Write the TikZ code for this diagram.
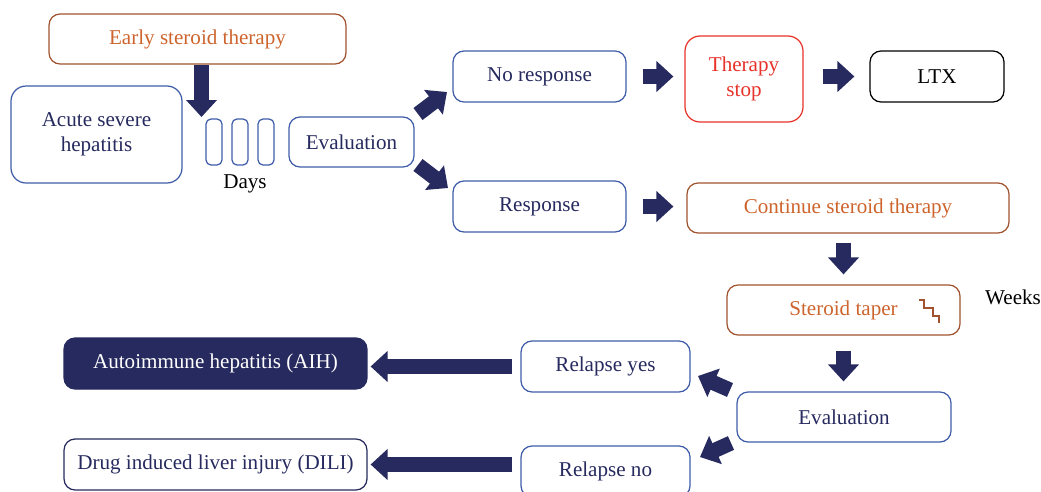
\documentclass[tikz,border=0pt]{standalone}
\usepackage{fontspec}
\setmainfont{Liberation Serif}
\usepackage{xcolor}
\usepackage{tikz}
\usetikzlibrary{arrows.meta}
\definecolor{navy}{RGB}{38,42,94}
\definecolor{boxblue}{RGB}{62,92,168}
\definecolor{rust}{RGB}{160,82,45}
\definecolor{rusttext}{RGB}{205,100,45}
\definecolor{stopred}{RGB}{230,50,40}
\tikzset{
	box/.style={draw,line width=0.7pt,rounded corners=2.2mm,align=center,inner sep=0pt},
	bluebox/.style={box,draw=boxblue,text=navy},
	rustbox/.style={box,draw=rust,text=rusttext},
	bigarrow/.style={draw=navy,line width=0.3cm,-{Triangle[length=0.34cm,width=0.6cm]}},
}
\begin{document}
\begin{tikzpicture}[x=0.02cm,y=-0.02cm,font=\fontsize{12}{14}\selectfont]
	\useasboundingbox (0,0) rectangle (1041,491);
	\node[rustbox,minimum width=5.94cm,minimum height=1cm] (early) at (197.5,39) {Early steroid therapy};
	\node[bluebox,rounded corners=3mm,minimum width=3.42cm,minimum height=1.94cm] (acute) at (96.5,134.5) {Acute severe\\hepatitis};
	\foreach \i/\x in {1/214,2/240,3/266}
		\node[bluebox,rounded corners=1mm,minimum width=0.32cm,minimum height=0.92cm] (d\i) at (\x,142) {};
	\node (days) at (245,184) {Days};
	\node[bluebox,minimum width=2.5cm,minimum height=1cm] (evalA) at (351.5,142) {Evaluation};
	\node[bluebox,minimum width=3.46cm,minimum height=1.02cm] (nores) at (539.5,76.5) {No response};
	\node[bluebox,minimum width=3.46cm,minimum height=1.02cm] (resp) at (539.5,206.5) {Response};
	\node[box,draw=stopred,text=stopred,rounded corners=3mm,minimum width=2.36cm,minimum height=1.72cm] (stop) at (744,79) {Therapy\\stop};
	\node[box,draw=black,minimum width=2.68cm,minimum height=1.02cm] (ltx) at (937,76.5) {LTX};
	\node[rustbox,minimum width=6.44cm,minimum height=1cm] (cont) at (848,208) {Continue steroid therapy};
	\node[rustbox,minimum width=4.66cm,minimum height=1cm] (taper) at (843.5,310) {Steroid taper};
	\draw[rust,line width=0.6pt] (919,300) -| (924,308) -| (933,316) -| (939,323);
	\node (weeks) at (1013,297) {Weeks};
	\node[bluebox,minimum width=4.28cm,minimum height=1cm] (evalB) at (844,417) {Evaluation};
	\node[bluebox,minimum width=3.38cm,minimum height=1.02cm] (relyes) at (605.5,366.5) {Relapse yes};
	\node[bluebox,minimum width=3.38cm,minimum height=1.02cm] (relno) at (605.5,471.5) {Relapse no};
	\node[box,draw=navy,fill=navy,text=white,minimum width=6.06cm,minimum height=1.02cm] (aih) at (215.5,363.5) {Autoimmune hepatitis (AIH)};
	\node[box,draw=navy,text=navy,minimum width=6.06cm,minimum height=1.02cm] (dili) at (215.5,464.5) {Drug induced liver injury (DILI)};
	% free ends of the arrows
	\coordinate (daystop) at (201.5,117);
	\coordinate (upA) at (418,114);
	\coordinate (upB) at (447,92);
	\coordinate (downA) at (418,165);
	\coordinate (downB) at (448,188);
	\coordinate (yesA) at (730,390);
	\coordinate (yesB) at (698,376);
	\coordinate (noA) at (731,443);
	\coordinate (noB) at (700,457);
	\draw[bigarrow] (early.south -| daystop) -- (daystop);
	\draw[bigarrow] (upA) -- (upB);
	\draw[bigarrow] (downA) -- (downB);
	\draw[bigarrow,shorten <=0.32cm,shorten >=0.22cm] (nores.east) -- (nores.east -| stop.west);
	\draw[bigarrow,shorten <=0.38cm,shorten >=0.3cm] (stop.east |- ltx.west) -- (ltx.west);
	\draw[bigarrow,shorten <=0.32cm,shorten >=0.26cm] (resp.east) -- (resp.east -| cont.west);
	\draw[bigarrow,shorten <=0.18cm,shorten >=0.2cm] (taper.north |- cont.south) -- (taper.north);
	\draw[bigarrow,shorten <=0.3cm,shorten >=0.2cm] (taper.south) -- (taper.south |- evalB.north);
	\draw[bigarrow] (yesA) -- (yesB);
	\draw[bigarrow] (noA) -- (noB);
	\draw[bigarrow,shorten <=0.16cm,shorten >=0.06cm] (relyes.west) -- (relyes.west -| aih.east);
	\draw[bigarrow,shorten <=0.16cm,shorten >=0.06cm] (relno.west |- dili.east) -- (dili.east);
\end{tikzpicture}
\end{document}
